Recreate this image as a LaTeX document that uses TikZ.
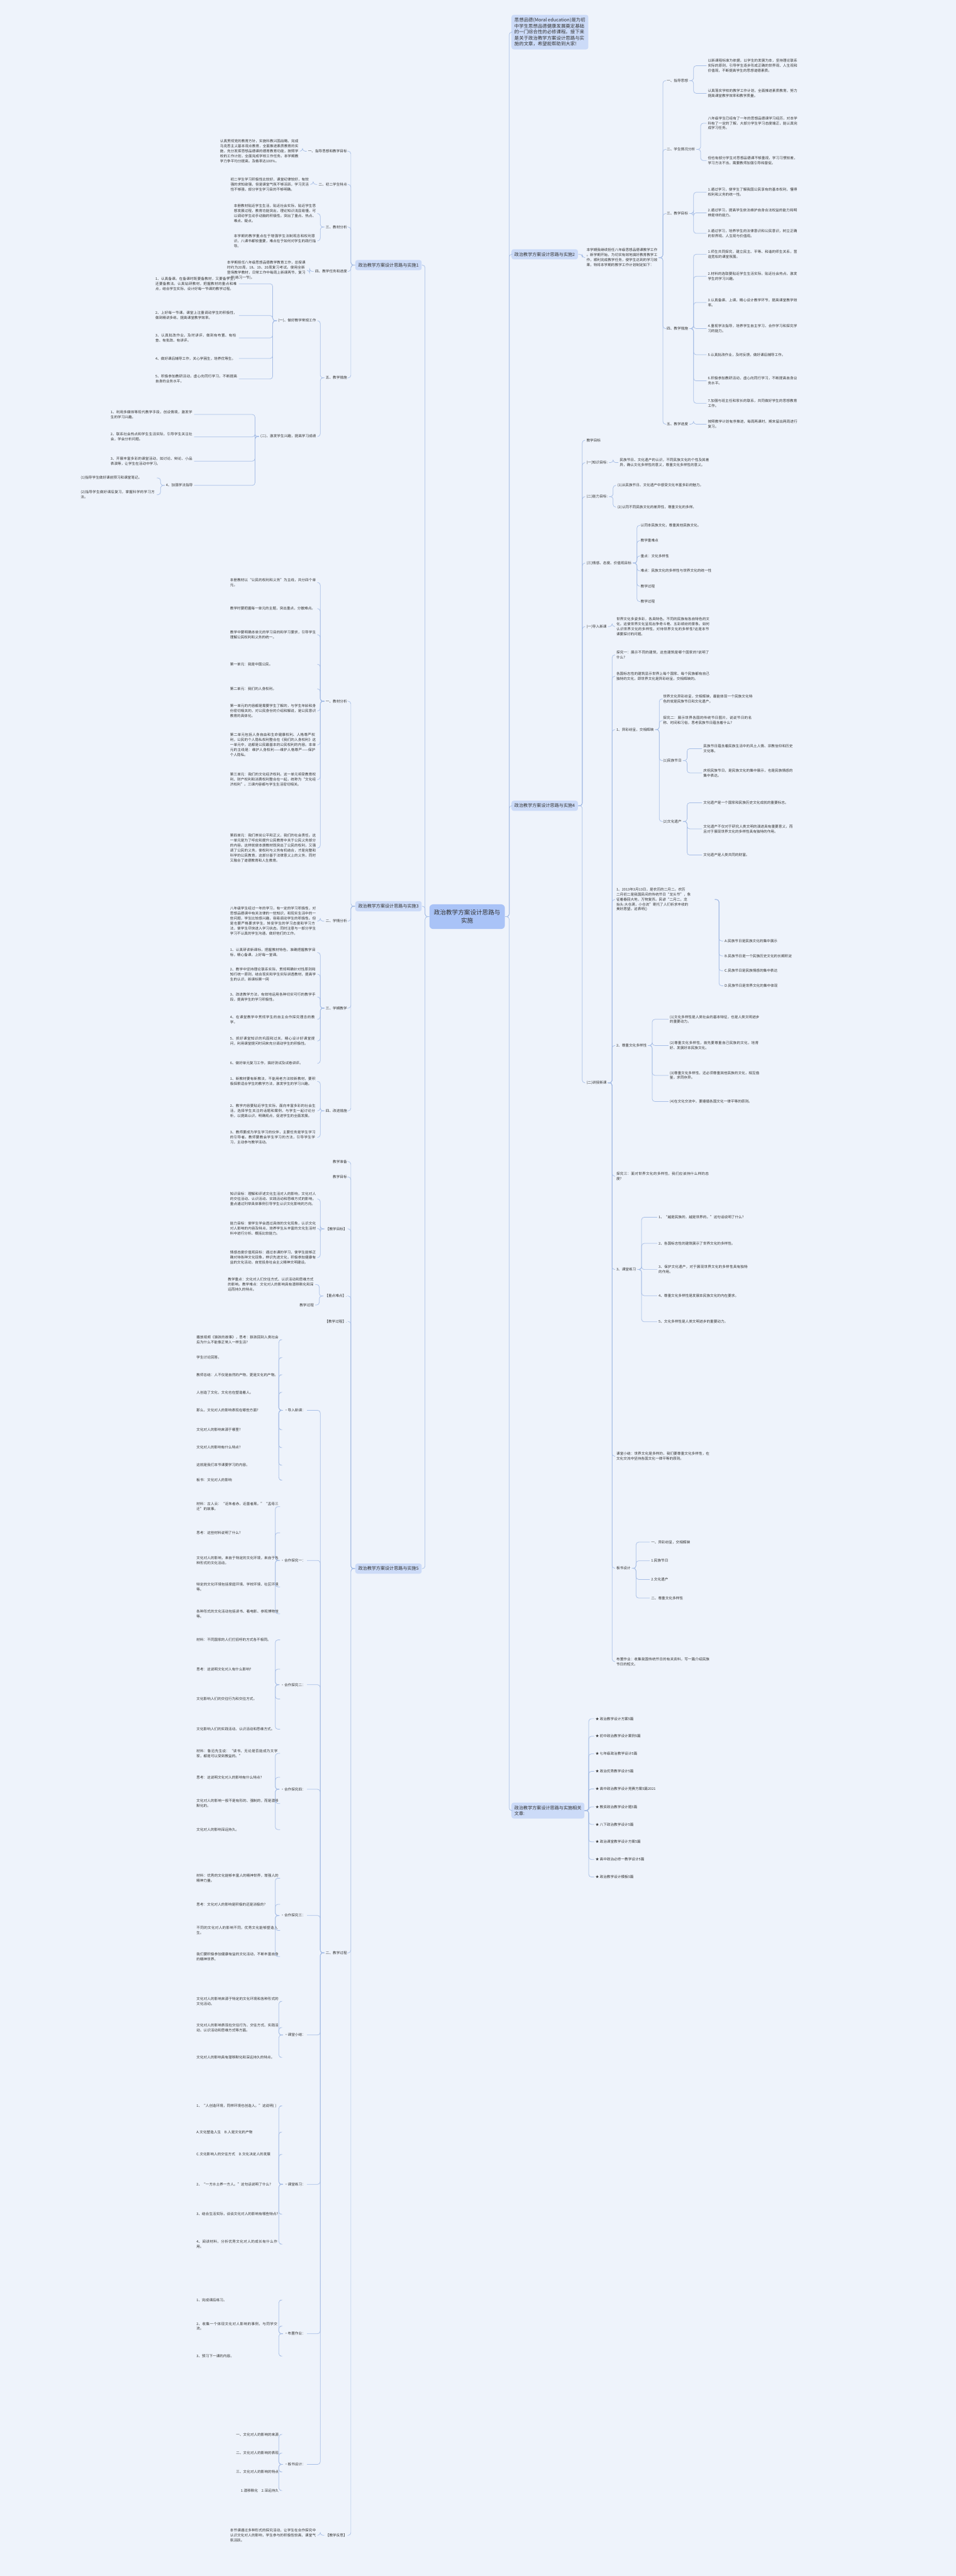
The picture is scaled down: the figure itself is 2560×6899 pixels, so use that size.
\documentclass[tikz,border=0pt]{standalone}
\usepackage{fontspec}
\setmainfont{Noto Sans CJK SC}
\XeTeXlinebreaklocale "zh"
\XeTeXlinebreakskip = 0pt plus 1pt
\usetikzlibrary{calc, positioning}

\definecolor{bgc}{HTML}{EEF3FB}
\definecolor{rootc}{HTML}{A9C3F7}
\definecolor{boxc}{HTML}{CCDBF8}
\definecolor{linec}{HTML}{A7BEE6}
\definecolor{textc}{HTML}{333333}

\newcommand{\leaffont}{\fontsize{2.7}{3.8}\selectfont}
\newcommand{\boxfont}{\fontsize{3.4}{4.4}\selectfont}
% connectors: right side and left side
\newcommand{\rlink}[2]{\draw[link] (#1.east) -- ++(11,0) |- (#2.west);}
\newcommand{\llink}[2]{\draw[link] (#1.west) -- ++(-11,0) |- (#2.east);}

\tikzset{
  link/.style={draw=linec, line width=0.35pt, rounded corners=0.7mm},
  rootbox/.style={fill=rootc, rounded corners=1mm, text=textc, align=center,
    font=\fontsize{4.6}{6.2}\selectfont, minimum width=20.2mm, minimum height=6.6mm},
  topbox/.style={fill=boxc, rounded corners=0.6mm, text=textc, font=\boxfont,
    inner xsep=0.8mm, inner ysep=0.8mm, align=left},
  leaf/.style={text=textc, font=\leaffont, inner sep=0.3mm, align=left},
  para/.style={leaf, text width=#1}
}

\begin{document}
\begin{tikzpicture}[x=0.1mm, y=-0.1mm]
\fill[bgc] (0,0) rectangle (2560,6899);
\useasboundingbox (0,0) rectangle (2560,6899);

% root
\node[rootbox] (root) at (1251,2455) {政治教学方案设计思路与\\实施};

% first level, right
\node[topbox, anchor=west, font=\fontsize{3.55}{4.6}\selectfont] (intro) at (1369,86)
  {思想品德(Moral education)是为初\\中学生思想品德健康发展奠定基础\\的一门综合性的必修课程。接下来\\是关于政治教学方案设计思路与实\\施的文章，希望能帮助到大家!};
\node[topbox, anchor=west] (s2) at (1369,681) {政治教学方案设计思路与实施2};
\node[topbox, anchor=west] (s4) at (1369,2158) {政治教学方案设计思路与实施4};
\node[topbox, anchor=west] (rel) at (1369,4849) {政治教学方案设计思路与实施相关\\文章:};

% first level, left
\node[topbox, anchor=east] (s1) at (1130,710) {政治教学方案设计思路与实施1};
\node[topbox, anchor=east] (s3) at (1130,2427) {政治教学方案设计思路与实施3};
\node[topbox, anchor=east] (s5) at (1130,4201) {政治教学方案设计思路与实施5};

\foreach \c in {intro, s2, s4, rel} {\rlink{root}{\c}}
\foreach \c in {s1, s3, s5} {\llink{root}{\c}}

% ---------- 2 ----------
\node[leaf, anchor=west] (s2p) at (1567,690)
  {本学期我继续担任八年级思想品德课教学工作\\。新学期开始，为切实有效地搞好教育教学工\\作，顺利完成教学任务，使学生达到的学习效\\果，特将本学期的教学工作计划制定如下：};
\rlink{s2}{s2p}
\node[leaf, anchor=west] (s2a) at (1782,216) {一、指导思想};
\node[leaf, anchor=west] (s2b) at (1782,400) {二、学生情况分析};
\node[leaf, anchor=west] (s2c) at (1782,572) {三、教学目标};
\node[leaf, anchor=west] (s2d) at (1782,880) {四、教学措施};
\node[leaf, anchor=west] (s2e) at (1782,1136) {五、教学进度};
\foreach \c in {s2a, s2b, s2c, s2d, s2e} {\rlink{s2p}{\c}}

\foreach \yy/\txt [count=\ii] in {
  176/{以新课程标准为依据，以学生的发展为本，坚持理论联系实际的原则，引导学生逐步形成正确的世界观、人生观和价值观，不断提高学生的思想道德素质。},
  250/{认真落实学校的教学工作计划，全面推进素质教育，努力提高课堂教学效率和教学质量。}}
  {\node[para=24mm, anchor=west] (s2a\ii) at (1892,\yy) {\txt}; \rlink{s2a}{s2a\ii}}
\foreach \yy/\txt [count=\ii] in {
  330/{八年级学生已经有了一年的思想品德课学习经历，对本学科有了一定的了解，大部分学生学习态度端正，能认真完成学习任务。},
  430/{但也有部分学生对思想品德课不够重视，学习习惯较差，学习方法不当，需要教师加强引导和督促。}}
  {\node[para=24mm, anchor=west] (s2b\ii) at (1892,\yy) {\txt}; \rlink{s2b}{s2b\ii}}
\foreach \yy/\txt [count=\ii] in {
  515/{1.通过学习，使学生了解我国公民享有的基本权利，懂得权利和义务的统一性。},
  570/{2.通过学习，提高学生依法维护自身合法权益的能力和明辨是非的能力。},
  625/{3.通过学习，培养学生的法律意识和公民意识，树立正确的世界观、人生观与价值观。}}
  {\node[para=24mm, anchor=west] (s2c\ii) at (1892,\yy) {\txt}; \rlink{s2c}{s2c\ii}}
\foreach \yy/\txt [count=\ii] in {
  681/{1.师生共同探究，建立民主、平等、和谐的师生关系，营造宽松的课堂氛围。},
  740/{2.材料的选取要贴近学生生活实际，贴近社会热点，激发学生的学习兴趣。},
  810/{3.认真备课、上课，精心设计教学环节，提高课堂教学效率。},
  880/{4.重视学法指导，培养学生自主学习、合作学习和探究学习的能力。},
  950/{5.认真批改作业，及时反馈，做好课后辅导工作。},
  1020/{6.积极参加教研活动，虚心向同行学习，不断提高自身业务水平。},
  1080/{7.加强与班主任和家长的联系，共同做好学生的思想教育工作。}}
  {\node[para=24mm, anchor=west] (s2d\ii) at (1892,\yy) {\txt}; \rlink{s2d}{s2d\ii}}
\node[para=24mm, anchor=west] (s2e1) at (1892,1136) {按照教学计划有序推进，每周两课时，期末留出两周进行复习。};
\rlink{s2e}{s2e1}

% ---------- 4 ----------
\node[leaf, anchor=west] (s4a) at (1567,1179) {教学目标};
\node[leaf, anchor=west] (s4b) at (1567,1239) {(一)知识目标:};
\node[leaf, anchor=west] (s4c) at (1567,1330) {(二)能力目标:};
\node[leaf, anchor=west] (s4d) at (1567,1508) {(三)情感、态度、价值观目标};
\node[leaf, anchor=west] (s4e) at (1567,1678) {(一)导入新课};
\node[leaf, anchor=west] (s4f) at (1567,2900) {(二)讲授新课};
\foreach \c in {s4a, s4b, s4c, s4d, s4e, s4f} {\rlink{s4}{\c}}

\node[para=24mm, anchor=west] (s4b1) at (1656,1239)
  {民族节日、文化遗产的认识，不同民族文化的个性及其差异，确认文化多样性的意义，尊重文化多样性的意义。};
\rlink{s4b}{s4b1}
\node[para=24mm, anchor=west] (s4c1) at (1650,1300) {(1)从民族节日、文化遗产中感受文化丰富多彩的魅力。};
\node[para=24mm, anchor=west] (s4c2) at (1650,1358) {(2)认同不同民族文化的差异性，尊重文化的多样。};
\rlink{s4c}{s4c1} \rlink{s4c}{s4c2}
\foreach \yy/\txt [count=\ii] in {
  1407/{认同本民族文化，尊重其他民族文化。},
  1448/{教学重难点},
  1489/{重点：文化多样性},
  1529/{难点：民族文化的多样性与世界文化的统一性},
  1570/{教学过程},
  1611/{教学过程}}
  {\node[leaf, anchor=west] (s4d\ii) at (1712,\yy) {\txt}; \rlink{s4d}{s4d\ii}}
\node[para=25mm, anchor=west] (s4e1) at (1647,1678)
  {世界文化多姿多彩，各具特色。不同的民族有各自特色的文化，这使世界文化呈现出争奇斗艳、五彩缤纷的景象。如何认识世界文化的多样性，对待世界文化的多样性?这是本节课要探讨的问题。};
\rlink{s4e}{s4e1}

\node[para=25mm, anchor=west] (f1) at (1647,1754) {探究一：展示不同的建筑，这些建筑是哪个国家的?说明了什么?};
\node[para=25mm, anchor=west] (f2) at (1647,1811) {各国标志性的建筑显示世界上每个国家、每个民族都有自己独特的文化，即世界文化是异彩纷呈，交相辉映的。};
\node[leaf, anchor=west] (f3) at (1647,1954) {1、异彩纷呈，交相辉映};
\node[para=26mm, anchor=west] (f4) at (1647,2409)
  {1、2013年3月13日，是农历的二月二。农历\\二月初二是我国民间的传统节日“龙头节”，象\\征着春回大地，万物复苏。民谚“二月二，龙\\抬头:大仓满，小仓流”寄托了人们祈求丰收的\\美好愿望。这表明()};
\node[leaf, anchor=west] (f5) at (1647,2800) {2、尊重文化多样性};
\node[para=25mm, anchor=west] (f6) at (1647,3150) {探究三：面对世界文化的多样性，我们应该持什么样的态度?};
\node[leaf, anchor=west] (f7) at (1647,3400) {3、课堂练习};
\node[para=25mm, anchor=west] (f8) at (1647,3900) {课堂小结：世界文化是多样的，我们要尊重文化多样性，在文化交流中坚持各国文化一律平等的原则。};
\node[leaf, anchor=west] (f9) at (1647,4200) {板书设计};
\node[para=25mm, anchor=west] (f10) at (1647,4450) {布置作业：收集我国传统节日的有关资料，写一篇介绍民族节日的短文。};
\foreach \c in {f1, f2, f3, f4, f5, f6, f7, f8, f9, f10} {\rlink{s4f}{\c}}

\node[para=24mm, anchor=west] (f31) at (1772,1872) {世界文化异彩纷呈，交相辉映，最能体现一个民族文化特色的就是民族节日和文化遗产。};
\node[para=24mm, anchor=west] (f32) at (1772,1930) {探究二：展示世界各国的传统节日图片，说说节日的名称、时间和习俗，思考民族节日蕴含着什么?};
\node[leaf, anchor=west] (f33) at (1772,2037) {(1)民族节日};
\node[leaf, anchor=west] (f34) at (1772,2200) {(2)文化遗产};
\foreach \c in {f31, f32, f33, f34} {\rlink{f3}{\c}}
\node[para=24mm, anchor=west] (f331) at (1880,2005) {民族节日蕴含着民族生活中的风土人情、宗教信仰和历史文化等。};
\node[para=24mm, anchor=west] (f332) at (1880,2070) {庆祝民族节日，是民族文化的集中展示，也是民族情感的集中表达。};
\rlink{f33}{f331} \rlink{f33}{f332}
\node[para=24mm, anchor=west] (f341) at (1880,2150) {文化遗产是一个国家和民族历史文化成就的重要标志。};
\node[para=24mm, anchor=west] (f342) at (1880,2220) {文化遗产不仅对于研究人类文明的演进具有重要意义，而且对于展现世界文化的多样性具有独特的作用。};
\node[para=24mm, anchor=west] (f343) at (1880,2290) {文化遗产是人类共同的财富。};
\rlink{f34}{f341} \rlink{f34}{f342} \rlink{f34}{f343}
\node[para=24mm, anchor=west] (f41) at (1937,2520) {A.民族节日是民族文化的集中展示};
\node[para=24mm, anchor=west] (f42) at (1937,2560) {B.民族节日是一个民族历史文化的长期积淀};
\node[para=24mm, anchor=west] (f43) at (1937,2600) {C.民族节日是民族情感的集中表达};
\node[para=24mm, anchor=west] (f44) at (1937,2640) {D.民族节日是世界文化的集中体现};
\foreach \c in {f41, f42, f43, f44} {\rlink{f4}{\c}}
\foreach \yy/\txt [count=\ii] in {
  2730/{(1)文化多样性是人类社会的基本特征，也是人类文明进步的重要动力。},
  2800/{(2)尊重文化多样性，首先要尊重自己民族的文化，培育好、发展好本民族文化。},
  2880/{(3)尊重文化多样性，还必须尊重其他民族的文化，相互借鉴，求同存异。},
  2950/{(4)在文化交流中，要遵循各国文化一律平等的原则。}}
  {\node[para=24mm, anchor=west] (f5\ii) at (1790,\yy) {\txt}; \rlink{f5}{f5\ii}}
\foreach \yy/\txt [count=\ii] in {
  3260/{1、“越是民族的，越是世界的。”这句话说明了什么?},
  3330/{2、各国标志性的建筑展示了世界文化的多样性。},
  3400/{3、保护文化遗产，对于展现世界文化的多样性具有独特的作用。},
  3470/{4、尊重文化多样性是发展本民族文化的内在要求。},
  3540/{5、文化多样性是人类文明进步的重要动力。}}
  {\node[para=24mm, anchor=west] (f7\ii) at (1760,\yy) {\txt}; \rlink{f7}{f7\ii}}
\foreach \yy/\txt [count=\ii] in {
  4130/{一、异彩纷呈，交相辉映},
  4180/{1.民族节日},
  4230/{2.文化遗产},
  4280/{二、尊重文化多样性}}
  {\node[leaf, anchor=west] (f9\ii) at (1740,\yy) {\txt}; \rlink{f9}{f9\ii}}

% ---------- related ----------
\foreach \yy/\txt [count=\ii] in {
  4603/{★ 政治教学设计方案5篇},
  4650/{★ 初中政治教学设计案例5篇},
  4697/{★ 七年级政治教学设计5篇},
  4744/{★ 政治优秀教学设计5篇},
  4791/{★ 高中政治教学设计竞赛方案5篇2021},
  4839/{★ 教资政治教学设计题5篇},
  4886/{★ 八下政治教学设计5篇},
  4933/{★ 政治课堂教学设计方案5篇},
  4980/{★ 高中政治必修一教学设计5篇},
  5027/{★ 政治教学设计模板5篇}}
  {\node[leaf, anchor=west] (r\ii) at (1591,\yy) {\txt}; \rlink{rel}{r\ii}}

% ---------- 1 ----------
\node[leaf, anchor=east] (s1a) at (933,405) {一、指导思想和教学目标};
\node[leaf, anchor=east] (s1b) at (933,494) {二、初二学生特点};
\node[leaf, anchor=east] (s1c) at (933,608) {三、教材分析};
\node[leaf, anchor=east] (s1d) at (933,727) {四、教学任务和进度};
\node[leaf, anchor=east] (s1e) at (933,1012) {五、教学措施};
\foreach \c in {s1a, s1b, s1c, s1d, s1e} {\llink{s1}{\c}}

\node[para=21mm, anchor=east] (s1a1) at (803,405)
  {认真贯彻党的教育方针，实施科教兴国战略，完成马克思主义基本观点教育，全面推进素质教育的实施，充分发挥思想品德课的德育教育功能，按照学校的工作计划，全面完成学校工作任务。本学期教学力争平均分提高，及格率达100\%。};
\llink{s1a}{s1a1}
\node[para=21mm, anchor=east] (s1b1) at (831,494)
  {初二学生学习积极性比较好，课堂纪律较好，有较强的求知欲强，但是课堂气氛不够活跃，学习灵活性不够强，部分学生学习目的不够明确。};
\llink{s1b}{s1b1}
\node[para=22mm, anchor=east] (s1c1) at (850,572)
  {本册教材贴近学生生活，贴近社会实际，贴近学生思想发展过程，教育功能突出，理论知识浅显易懂，可以调动学生动手动脑的积极性。突出了重点、热点、难点、疑点。};
\node[para=22mm, anchor=east] (s1c2) at (850,645)
  {本学期的教学重点在于增强学生法制观念和权利意识，八课书都较重要，难点在于如何对学生的践行指导。};
\llink{s1c}{s1c1} \llink{s1c}{s1c2}
\node[para=21mm, anchor=east] (s1d1) at (822,724)
  {本学期担任八年级思想品德教学教育工作，总授课时约为20周，18、19、20周复习考试。使用全新登场教学教材，日常工作中每周上新课两节，复习一节(练习一节)。};
\llink{s1d}{s1d1}
\node[leaf, anchor=east] (s1e1) at (850,859) {(一)、做好教学常规工作};
\node[leaf, anchor=east] (s1e2) at (850,1169) {(二)、激发学生兴趣，提高学习成绩};
\llink{s1e}{s1e1} \llink{s1e}{s1e2}
\foreach \yy/\txt [count=\ii] in {
  760/{1、认真备课。在备课时既要备教材，又要备学生，还要备教法。认真钻研教材，把握教材的重点和难点，结合学生实际，设计好每一节课的教学过程。},
  845/{2、上好每一节课。课堂上注重调动学生的积极性，做到精讲多练，提高课堂教学效率。},
  905/{3、认真批改作业，及时讲评，做到有布置、有检查、有批改、有讲评。},
  960/{4、做好课后辅导工作，关心学困生，培养优等生。},
  1015/{5、积极参加教研活动，虚心向同行学习，不断提高自身的业务水平。}}
  {\node[para=22mm, anchor=east] (s1x\ii) at (640,\yy) {\txt}; \llink{s1e1}{s1x\ii}}
\foreach \yy/\txt [count=\ii] in {
  1110/{1、利用多媒体等现代教学手段，创设情境，激发学生的学习兴趣。},
  1170/{2、联系社会热点和学生生活实际，引导学生关注社会，学会分析问题。},
  1235/{3、开展丰富多彩的课堂活动，如讨论、辩论、小品表演等，让学生在活动中学习。}}
  {\node[para=22mm, anchor=east] (s1y\ii) at (520,\yy) {\txt}; \llink{s1e2}{s1y\ii}}
\node[leaf, anchor=east] (s1y4) at (520,1300) {4、加强学法指导};
\llink{s1e2}{s1y4}
\node[para=20mm, anchor=east] (s1z1) at (420,1280) {(1)指导学生做好课前预习和课堂笔记。};
\node[para=20mm, anchor=east] (s1z2) at (420,1325) {(2)指导学生做好课后复习，掌握科学的学习方法。};
\llink{s1y4}{s1z1} \llink{s1y4}{s1z2}

% ---------- 3 ----------
\node[leaf, anchor=east] (s3a) at (933,1878) {一、教材分析};
\node[leaf, anchor=east] (s3b) at (933,2467) {二、学情分析};
\node[leaf, anchor=east] (s3c) at (933,2700) {三、学期教学};
\node[leaf, anchor=east] (s3d) at (933,2975) {四、改进措施};
\foreach \c in {s3a, s3b, s3c, s3d} {\llink{s3}{\c}}
\foreach \yy/\txt [count=\ii] in {
  1560/{本册教材以“公民的权利和义务”为主线，共分四个单元。},
  1630/{教学时要把握每一单元的主题，突出重点，分散难点。},
  1700/{教学中要明确本单元的学习目的和学习要求，引导学生理解公民权利和义务的统一。},
  1779/{第一单元：我是中国公民。},
  1845/{第二单元：我们的人身权利。},
  1904/{第一单元的内容都是需要学生了解的，与学生年龄和身份密切相关的，对公民身份的介绍和解说，是公民意识教育的具体化。},
  1995/{第二单元包括人身自由和生命健康权利、人格尊严权利，公民的个人隐私权利整合在《我们的人身权利》这一单元中，这都是公民最基本的公民权利的内容。本单元的主线是：维护人身权利——维护人格尊严——保护个人隐私。},
  2088/{第三单元：我们的文化经济权利。这一单元将受教育权利、财产权利和消费权利整合在一起，统称为“文化经济权利”。三课内容都与学生生活密切相关。},
  2271/{第四单元：我们崇尚公平和正义，我们的社会责任。这一单元是为了呼应和提升公民教育中关于公民义务部分的内容。这样就使本册教材既突出了公民的权利，又强调了公民的义务，使权利与义务有机结合，才是完整和科学的公民教育，这部分基于法律意义上的义务，同时又融合了道德教育和人生教育。}}
  {\node[para=23mm, anchor=east] (s3a\ii) at (850,\yy) {\txt}; \llink{s3a}{s3a\ii}}
\node[para=23mm, anchor=east] (s3b1) at (850,2467)
  {八年级学生经过一年的学习，有一定的学习积极性，对思想品德课中有关法律的一些知识，和现实生活中的一些问题，学生比较感兴趣，容易调动学生的积极性。但是也要严格要求学生，转变学生的学习态度和学习方法，使学生尽快进入学习状态。同时注意与一部分学生学习不认真的学生沟通，做好他们的工作。};
\llink{s3b}{s3b1}
\foreach \yy/\txt [count=\ii] in {
  2551/{1、认真研读新课标，把握教材特色，准确把握教学目标，精心备课，上好每一堂课。},
  2609/{2、教学中坚持理论联系实际，贯彻明确针对性原则和知行统一原则，结合现实和学生实际讲透教材，提高学生的认识，新课标第一网},
  2670/{3、改进教学方法，有效地运用各种切实可行的教学手段，提高学生的学习积极性。},
  2730/{4、在课堂教学中贯彻学生的自主合作探究理念的教学。},
  2788/{5、抓好课堂知识的巩固和过关，精心设计好课堂提问，利用课堂提问时间来充分调动学生的积极性。},
  2848/{6、做好单元复习工作，搞好测试及试卷讲评。}}
  {\node[para=23mm, anchor=east] (s3c\ii) at (850,\yy) {\txt}; \llink{s3c}{s3c\ii}}
\foreach \yy/\txt [count=\ii] in {
  2896/{1、新教材要有新教法，不能用老方法较新教材，要积极探索适合学生的教学方法，激发学生的学习兴趣。},
  2975/{2、教学内容要贴近学生实际，面向丰富多彩的社会生活，选择学生关注的话题和案例，与学生一起讨论分析，以提高认识，明确观点，促进学生的全面发展。},
  3046/{3、教师要成为学生学习的伙伴，主要任务是学生学习的引导者。教师要教会学生学习的方法，引导学生学习，主动参与教学活动。}}
  {\node[para=23mm, anchor=east] (s3d\ii) at (850,\yy) {\txt}; \llink{s3d}{s3d\ii}}

% ---------- 5 ----------
\node[leaf, anchor=east] (s5a) at (933,3111) {教学准备};
\node[leaf, anchor=east] (s5b) at (933,3152) {教学目标};
\node[leaf, anchor=east] (s5c) at (933,3291) {【教学目标】};
\node[leaf, anchor=east] (s5d) at (933,3471) {【重点难点】.};
\node[leaf, anchor=east] (s5e) at (933,3539) {【教学过程】.};
\node[leaf, anchor=east] (s5f) at (933,5230) {二、教学过程};
\node[leaf, anchor=east] (s5g) at (933,6790) {【教学反思】};
\foreach \c in {s5a, s5b, s5c, s5d, s5e, s5f, s5g} {\llink{s5}{\c}}
\foreach \yy/\txt [count=\ii] in {
  3211/{知识目标：理解和评述文化生活对人的影响，文化对人的交往活动、认识活动、实践活动和思维方式的影响。重点通过列举具体事例引导学生认识文化影响的方向。},
  3290/{能力目标：使学生学会透过具体的文化现象，认识文化对人影响的内容及特点，培养学生从丰富的文化生活材料中进行分析、概括比较能力。},
  3368/{情感态度价值观目标：通过本课的学习，使学生能够正确对待各种文化现象，辨识先进文化，积极参加健康有益的文化活动，自觉投身社会主义精神文明建设。}}
  {\node[para=23mm, anchor=east] (s5c\ii) at (850,\yy) {\txt}; \llink{s5c}{s5c\ii}}
\node[para=23mm, anchor=east] (s5d1) at (844,3440) {教学重点：文化对人们交往方式、认识活动和思维方式的影响。教学难点：文化对人的影响具有潜移默化和深远而持久的特点。};
\node[leaf, anchor=east] (s5d2) at (844,3495) {教学过程};
\llink{s5d}{s5d1} \llink{s5d}{s5d2}

\node[leaf, anchor=east] (t1) at (822,3777) {◦导入新课：};
\node[leaf, anchor=east] (t2) at (822,4179) {◦合作探究一：};
\node[leaf, anchor=east] (t3) at (822,4512) {◦合作探究二：};
\node[leaf, anchor=east] (t4) at (822,4792) {◦合作探究四：};
\node[leaf, anchor=east] (t5) at (822,5130) {◦合作探究三：};
\node[leaf, anchor=east] (t6) at (822,5450) {◦课堂小结：};
\node[leaf, anchor=east] (t7) at (822,5850) {◦课堂练习：};
\node[leaf, anchor=east] (t8) at (822,6250) {◦布置作业：};
\node[leaf, anchor=east] (t9) at (822,6600) {◦板书设计：};
\foreach \c in {t1, t2, t3, t4, t5, t6, t7, t8, t9} {\llink{s5f}{\c}}

\foreach \yy/\txt [count=\ii] in {
  3588/{播放视频《狼孩的故事》，思考：狼孩回到人类社会后为什么不能像正常人一样生活?},
  3636/{学生讨论回答。},
  3682/{教师总结：人不仅是自然的产物，更是文化的产物。},
  3729/{人创造了文化，文化也在塑造着人。},
  3777/{那么，文化对人的影响表现在哪些方面?},
  3829/{文化对人的影响来源于哪里?},
  3877/{文化对人的影响有什么特点?},
  3924/{这就是我们本节课要学习的内容。},
  3964/{板书：文化对人的影响}}
  {\node[para=22mm, anchor=east] (t1\ii) at (750,\yy) {\txt}; \llink{t1}{t1\ii}}
\foreach \yy/\txt [count=\ii] in {
  4035/{材料：古人云：“近朱者赤，近墨者黑。”“孟母三迁”的故事。},
  4105/{思考：这些材料说明了什么?},
  4179/{文化对人的影响，来自于特定的文化环境，来自于各种形式的文化活动。},
  4250/{特定的文化环境包括家庭环境、学校环境、社区环境等。},
  4322/{各种形式的文化活动包括读书、看电影、参观博物馆等。}}
  {\node[para=22mm, anchor=east] (t2\ii) at (750,\yy) {\txt}; \llink{t2}{t2\ii}}
\foreach \yy/\txt [count=\ii] in {
  4392/{材料：不同国家的人们打招呼的方式各不相同。},
  4470/{思考：这说明文化对人有什么影响?},
  4550/{文化影响人们的交往行为和交往方式。},
  4631/{文化影响人们的实践活动、认识活动和思维方式。}}
  {\node[para=22mm, anchor=east] (t3\ii) at (750,\yy) {\txt}; \llink{t3}{t3\ii}}
\foreach \yy/\txt [count=\ii] in {
  4696/{材料：鲁迅先生说：“读书，无论是否能成为文学家，都是可以受到教益的。”},
  4760/{思考：这说明文化对人的影响有什么特点?},
  4830/{文化对人的影响一般不是有形的、强制的，而是潜移默化的。},
  4900/{文化对人的影响深远持久。}}
  {\node[para=22mm, anchor=east] (t4\ii) at (750,\yy) {\txt}; \llink{t4}{t4\ii}}
\foreach \yy/\txt [count=\ii] in {
  5030/{材料：优秀的文化能够丰富人的精神世界，增强人的精神力量。},
  5100/{思考：文化对人的影响是积极的还是消极的?},
  5170/{不同的文化对人的影响不同，优秀文化能够塑造人生。},
  5240/{我们要积极参加健康有益的文化活动，不断丰富自身的精神世界。}}
  {\node[para=22mm, anchor=east] (t5\ii) at (750,\yy) {\txt}; \llink{t5}{t5\ii}}
\foreach \yy/\txt [count=\ii] in {
  5360/{文化对人的影响来源于特定的文化环境和各种形式的文化活动。},
  5430/{文化对人的影响表现在交往行为、交往方式、实践活动、认识活动和思维方式等方面。},
  5510/{文化对人的影响具有潜移默化和深远持久的特点。}}
  {\node[para=22mm, anchor=east] (t6\ii) at (750,\yy) {\txt}; \llink{t6}{t6\ii}}
\foreach \yy/\txt [count=\ii] in {
  5640/{1、“人创造环境，同样环境也创造人。”这说明(\ )},
  5710/{A.文化塑造人生\quad B.人是文化的产物},
  5770/{C.文化影响人的交往方式\quad D.文化决定人的发展},
  5850/{2、“一方水土养一方人。”这句话说明了什么?},
  5930/{3、结合生活实际，谈谈文化对人的影响有哪些特点?},
  6010/{4、阅读材料，分析优秀文化对人的成长有什么作用。}}
  {\node[para=22mm, anchor=east] (t7\ii) at (750,\yy) {\txt}; \llink{t7}{t7\ii}}
\foreach \yy/\txt [count=\ii] in {
  6160/{1、完成课后练习。},
  6230/{2、收集一个体现文化对人影响的事例，与同学交流。},
  6310/{3、预习下一课的内容。}}
  {\node[para=22mm, anchor=east] (t8\ii) at (750,\yy) {\txt}; \llink{t8}{t8\ii}}
\foreach \yy/\txt [count=\ii] in {
  6520/{一、文化对人的影响的来源},
  6570/{二、文化对人的影响的表现},
  6620/{三、文化对人的影响的特点},
  6670/{1.潜移默化\quad 2.深远持久}}
  {\node[leaf, anchor=east] (t9\ii) at (750,\yy) {\txt}; \llink{t9}{t9\ii}}
\node[para=23mm, anchor=east] (s5g1) at (850,6790)
  {本节课通过多种形式的探究活动，让学生在合作探究中认识文化对人的影响，学生参与的积极性较高，课堂气氛活跃。};
\llink{s5g}{s5g1}
\end{tikzpicture}
\end{document}
